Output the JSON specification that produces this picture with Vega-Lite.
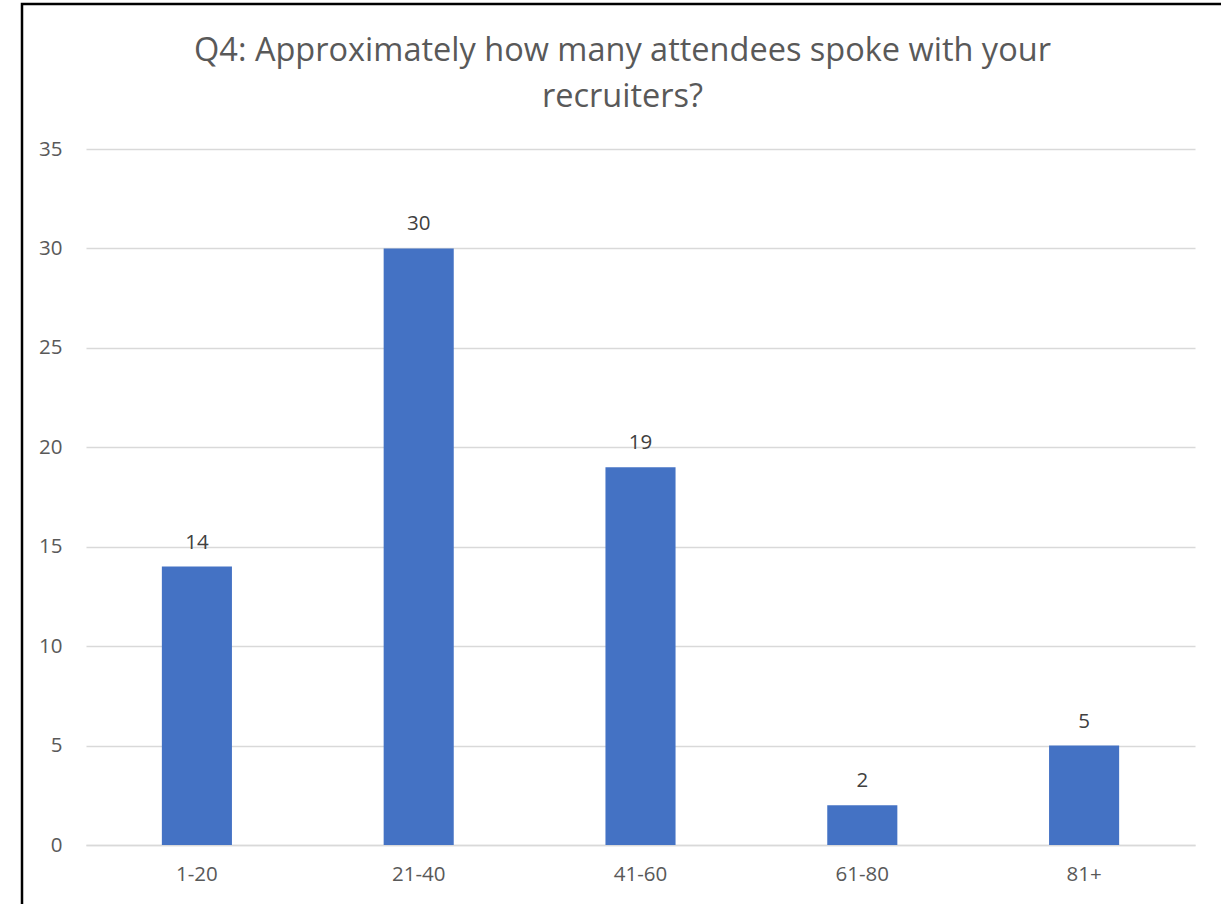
{
  "$schema": "https://vega.github.io/schema/vega-lite/v6.json",
  "autosize": {"type": "none"},
  "padding": {"left": 22, "top": 4, "right": -6, "bottom": -6},
  "width": 1205,
  "height": 906,
  "background": "white",
  "title": {
    "text": ["Q4: Approximately how many attendees spoke with your", "recruiters?"],
    "font": "Open Sans",
    "fontSize": 32.5,
    "fontWeight": "normal",
    "color": "#595959",
    "anchor": "middle",
    "frame": "group",
    "orient": "top",
    "baseline": "alphabetic",
    "lineHeight": 46,
    "offset": -135,
    "dx": -2
  },
  "data": {
    "values": [
      {"range": "1-20", "count": 14},
      {"range": "21-40", "count": 30},
      {"range": "41-60", "count": 19},
      {"range": "61-80", "count": 2},
      {"range": "81+", "count": 5}
    ]
  },
  "encoding": {
    "x": {
      "field": "range",
      "type": "nominal",
      "sort": null,
      "scale": {"range": [64, 1173], "paddingInner": 0.684, "paddingOuter": 0.342},
      "axis": {
        "title": null,
        "orient": "bottom",
        "offset": -65,
        "labelAngle": 0,
        "labelFont": "Open Sans",
        "labelFontSize": 20.5,
        "labelColor": "#595959",
        "labelPadding": 19,
        "ticks": false,
        "domain": true,
        "domainColor": "#d9d9d9",
        "domainWidth": 1.5,
        "grid": false
      }
    },
    "y": {
      "field": "count",
      "type": "quantitative",
      "scale": {"domain": [0, 35], "nice": false, "range": [841, 145]},
      "axis": {
        "title": null,
        "values": [0, 5, 10, 15, 20, 25, 30, 35],
        "domain": false,
        "ticks": false,
        "grid": true,
        "gridColor": "#d9d9d9",
        "gridWidth": 1.5,
        "labelFont": "Open Sans",
        "labelFontSize": 20.5,
        "labelColor": "#595959",
        "labelAlign": "right",
        "labelPadding": -40
      }
    }
  },
  "layer": [
    {"mark": {"type": "bar", "color": "#4472C4"}},
    {
      "mark": {"type": "text", "font": "Open Sans", "fontSize": 20.5, "color": "#404040", "baseline": "alphabetic", "dy": -18},
      "encoding": {"text": {"field": "count", "type": "quantitative"}}
    }
  ],
  "config": {
    "view": {"stroke": "#000000", "strokeWidth": 2.5}
  }
}
